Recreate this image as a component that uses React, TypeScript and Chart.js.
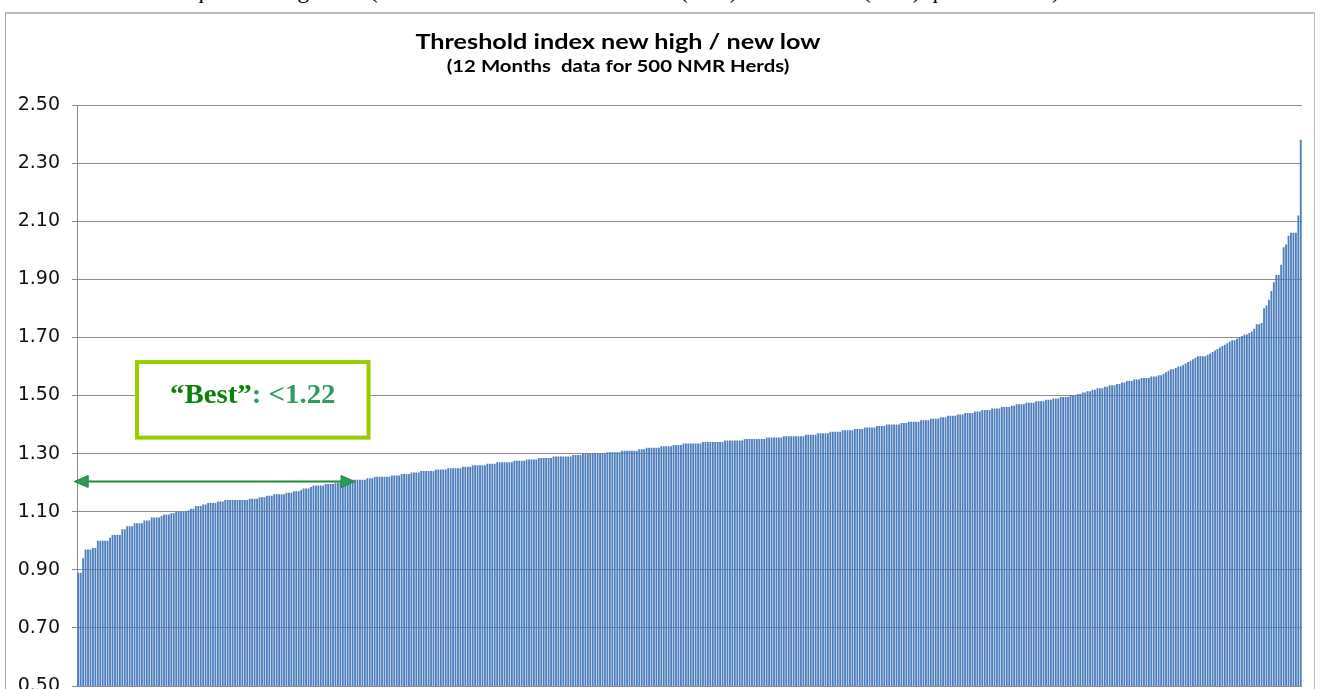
import React, { useEffect, useRef } from "react";
import { Chart, registerables } from "chart.js";

Chart.register(...registerables);

// Threshold index per herd, sorted ascending (500 NMR herds)
const herdIndex: number[] = [
  0.89, 0.89, 0.94, 0.97, 0.97, 0.97, 0.975, 0.975, 1.0, 1.0,
  1.0, 1.0, 1.0, 1.01, 1.02, 1.02, 1.02, 1.02, 1.04, 1.04,
  1.05, 1.05, 1.05, 1.06, 1.06, 1.06, 1.06, 1.07, 1.07, 1.07,
  1.08, 1.08, 1.08, 1.08, 1.085, 1.09, 1.09, 1.09, 1.095, 1.095,
  1.1, 1.1, 1.1, 1.1, 1.1, 1.105, 1.11, 1.11, 1.12, 1.12,
  1.12, 1.125, 1.125, 1.13, 1.13, 1.13, 1.13, 1.135, 1.135, 1.135,
  1.14, 1.14, 1.14, 1.14, 1.14, 1.14, 1.14, 1.14, 1.14, 1.14,
  1.145, 1.145, 1.145, 1.145, 1.15, 1.15, 1.15, 1.155, 1.155, 1.155,
  1.16, 1.16, 1.16, 1.16, 1.16, 1.165, 1.165, 1.165, 1.17, 1.17,
  1.17, 1.175, 1.18, 1.18, 1.18, 1.185, 1.19, 1.19, 1.19, 1.19,
  1.19, 1.195, 1.195, 1.195, 1.195, 1.2, 1.2, 1.2, 1.2, 1.2,
  1.2, 1.205, 1.21, 1.21, 1.21, 1.21, 1.21, 1.21, 1.215, 1.215,
  1.215, 1.22, 1.22, 1.22, 1.22, 1.22, 1.22, 1.22, 1.225, 1.225,
  1.225, 1.225, 1.23, 1.23, 1.23, 1.23, 1.235, 1.235, 1.235, 1.235,
  1.24, 1.24, 1.24, 1.24, 1.24, 1.24, 1.245, 1.245, 1.245, 1.245,
  1.245, 1.25, 1.25, 1.25, 1.25, 1.25, 1.25, 1.255, 1.255, 1.255,
  1.255, 1.26, 1.26, 1.26, 1.26, 1.26, 1.26, 1.265, 1.265, 1.265,
  1.265, 1.27, 1.27, 1.27, 1.27, 1.27, 1.27, 1.27, 1.275, 1.275,
  1.275, 1.275, 1.275, 1.28, 1.28, 1.28, 1.28, 1.28, 1.285, 1.285,
  1.285, 1.285, 1.285, 1.285, 1.29, 1.29, 1.29, 1.29, 1.29, 1.29,
  1.29, 1.29, 1.295, 1.295, 1.295, 1.295, 1.3, 1.3, 1.3, 1.3,
  1.3, 1.3, 1.3, 1.3, 1.3, 1.3, 1.305, 1.305, 1.305, 1.305,
  1.305, 1.305, 1.31, 1.31, 1.31, 1.31, 1.31, 1.31, 1.31, 1.315,
  1.315, 1.315, 1.32, 1.32, 1.32, 1.32, 1.32, 1.32, 1.325, 1.325,
  1.325, 1.325, 1.325, 1.33, 1.33, 1.33, 1.33, 1.335, 1.335, 1.335,
  1.335, 1.335, 1.335, 1.335, 1.335, 1.34, 1.34, 1.34, 1.34, 1.34,
  1.34, 1.34, 1.34, 1.34, 1.345, 1.345, 1.345, 1.345, 1.345, 1.345,
  1.345, 1.345, 1.35, 1.35, 1.35, 1.35, 1.35, 1.35, 1.35, 1.35,
  1.35, 1.355, 1.355, 1.355, 1.355, 1.355, 1.355, 1.355, 1.36, 1.36,
  1.36, 1.36, 1.36, 1.36, 1.36, 1.36, 1.36, 1.365, 1.365, 1.365,
  1.365, 1.365, 1.37, 1.37, 1.37, 1.37, 1.37, 1.375, 1.375, 1.375,
  1.375, 1.375, 1.38, 1.38, 1.38, 1.38, 1.38, 1.385, 1.385, 1.385,
  1.385, 1.39, 1.39, 1.39, 1.39, 1.39, 1.395, 1.395, 1.395, 1.395,
  1.4, 1.4, 1.4, 1.4, 1.4, 1.4, 1.405, 1.405, 1.405, 1.41,
  1.41, 1.41, 1.41, 1.41, 1.415, 1.415, 1.415, 1.415, 1.42, 1.42,
  1.42, 1.42, 1.425, 1.425, 1.425, 1.43, 1.43, 1.43, 1.43, 1.435,
  1.435, 1.435, 1.44, 1.44, 1.44, 1.44, 1.445, 1.445, 1.445, 1.45,
  1.45, 1.45, 1.45, 1.455, 1.455, 1.455, 1.455, 1.46, 1.46, 1.46,
  1.46, 1.465, 1.465, 1.47, 1.47, 1.47, 1.47, 1.475, 1.475, 1.475,
  1.475, 1.48, 1.48, 1.48, 1.48, 1.485, 1.485, 1.485, 1.49, 1.49,
  1.49, 1.495, 1.495, 1.495, 1.495, 1.5, 1.5, 1.5, 1.505, 1.505,
  1.51, 1.51, 1.515, 1.515, 1.52, 1.52, 1.525, 1.525, 1.525, 1.53,
  1.53, 1.535, 1.535, 1.535, 1.54, 1.54, 1.545, 1.545, 1.55, 1.55,
  1.55, 1.555, 1.555, 1.555, 1.56, 1.56, 1.56, 1.56, 1.565, 1.565,
  1.565, 1.57, 1.57, 1.575, 1.58, 1.585, 1.59, 1.59, 1.595, 1.6,
  1.6, 1.605, 1.61, 1.615, 1.62, 1.625, 1.63, 1.635, 1.635, 1.635,
  1.635, 1.64, 1.645, 1.65, 1.655, 1.66, 1.665, 1.67, 1.675, 1.68,
  1.685, 1.69, 1.69, 1.695, 1.7, 1.705, 1.71, 1.71, 1.715, 1.72,
  1.73, 1.745, 1.745, 1.75, 1.8, 1.81, 1.83, 1.86, 1.89, 1.915,
  1.915, 1.95, 2.01, 2.02, 2.05, 2.06, 2.06, 2.06, 2.12, 2.38,
];

const herdLabels: string[] = herdIndex.map((_, i) => `Herd ${i + 1}`);

const Y_MIN = 0.5;
const Y_MAX = 2.5;
const Y_STEP = 0.2;

const titleText = "Threshold index new high / new low";
const subtitleText = "(12 Months  data for 500 NMR Herds)";
const bestQuote = "\u201CBest\u201D";
const bestRest = ": <1.22";

// cropped line of document text above the chart
const docLineParts: string[] = [
  "interquartile range",
  "(difference between the",
  "(75%) and the",
  "(25%) quartile herds). Th",
];

// annotation anchors in data units (herd position, index value)
const BEST_BOX = { fromHerd: 24, toHerd: 118.5, low: 1.355, high: 1.615 };
const BEST_ARROW = { fromHerd: -1.65, toHerd: 113, value: 1.205 };

const bestPlugin = {
  id: "bestAnnotation",
  afterDatasetsDraw(chart: any) {
    const { ctx } = chart;
    const x = chart.scales.x;
    const y = chart.scales.y;
    const p0 = x.getPixelForValue(0);
    const pitch = x.getPixelForValue(1) - p0;
    const px = (h: number) => p0 + h * pitch;

    ctx.save();
    // arrow
    const ay = Math.round(y.getPixelForValue(BEST_ARROW.value)) + 0.5;
    const ax1 = px(BEST_ARROW.fromHerd);
    const ax2 = px(BEST_ARROW.toHerd);
    const head = 14;
    const half = 6;
    ctx.strokeStyle = "#1f8a3b";
    ctx.lineWidth = 2;
    ctx.beginPath();
    ctx.moveTo(ax1 + head, ay);
    ctx.lineTo(ax2 - head, ay);
    ctx.stroke();
    ctx.fillStyle = "#2e9a58";
    ctx.lineWidth = 1;
    ctx.beginPath();
    ctx.moveTo(ax1, ay);
    ctx.lineTo(ax1 + head, ay - half);
    ctx.lineTo(ax1 + head, ay + half);
    ctx.closePath();
    ctx.fill();
    ctx.stroke();
    ctx.beginPath();
    ctx.moveTo(ax2, ay);
    ctx.lineTo(ax2 - head, ay - half);
    ctx.lineTo(ax2 - head, ay + half);
    ctx.closePath();
    ctx.fill();
    ctx.stroke();

    // box
    const bx1 = px(BEST_BOX.fromHerd);
    const bx2 = px(BEST_BOX.toHerd);
    const by1 = y.getPixelForValue(BEST_BOX.high);
    const by2 = y.getPixelForValue(BEST_BOX.low);
    ctx.fillStyle = "#ffffff";
    ctx.fillRect(bx1, by1, bx2 - bx1, by2 - by1);
    ctx.strokeStyle = "#99cc00";
    ctx.lineWidth = 4;
    ctx.strokeRect(bx1, by1, bx2 - bx1, by2 - by1);

    // text
    ctx.font = 'bold 28px "Liberation Serif", "Times New Roman", serif';
    ctx.textBaseline = "middle";
    ctx.textAlign = "left";
    const w1 = ctx.measureText(bestQuote).width;
    const w2 = ctx.measureText(bestRest).width;
    const sx = 1.03;
    const cx = (bx1 + bx2) / 2;
    const cy = (by1 + by2) / 2 - 4;
    ctx.translate(cx, cy);
    ctx.scale(sx, 1);
    const start = -(w1 + w2) / 2;
    ctx.fillStyle = "#0b800b";
    ctx.fillText(bestQuote, start, 0);
    ctx.fillStyle = "#2f9a62";
    ctx.fillText(bestRest, start + w1, 0);
    ctx.restore();
  },
};

function ThresholdChart() {
  const ref = useRef<HTMLCanvasElement | null>(null);
  useEffect(() => {
    if (!ref.current) return;
    const chart = new Chart(ref.current, {
      type: "bar",
      data: {
        labels: herdLabels,
        datasets: [
          {
            data: herdIndex,
            backgroundColor: "#4a7dbb",
            borderWidth: 0,
            barPercentage: 0.74,
            categoryPercentage: 1,
          },
        ],
      },
      options: {
        responsive: false,
        maintainAspectRatio: false,
        devicePixelRatio: 1,
        animation: false,
        layout: { padding: { top: 92, right: 15, bottom: 47, left: 0 } },
        plugins: {
          legend: { display: false },
          tooltip: { enabled: false },
          title: { display: false },
        },
        scales: {
          x: { display: false },
          y: {
            min: Y_MIN,
            max: Y_MAX,
            afterFit: (s: any) => {
              s.width = 72;
            },
            ticks: {
              stepSize: Y_STEP,
              padding: 12,
              color: "#111111",
              font: { family: '"DejaVu Sans", sans-serif', size: 19 },
              callback: (v: any) => Number(v).toFixed(2),
            },
            grid: {
              color: "#8c8c8c",
              lineWidth: 1,
              tickLength: 5,
              drawTicks: true,
            },
            border: { display: true, color: "#8c8c8c", width: 1 },
          },
        },
      },
      plugins: [bestPlugin],
    } as any);
    return () => chart.destroy();
  }, []);
  return (
    <canvas
      ref={ref}
      width={1312}
      height={720}
      style={{ position: "absolute", left: 5, top: 13, width: 1312, height: 720, display: "block" }}
    />
  );
}

export default function App() {
  const docLeft = [150, 370, 680, 863];
  return (
    <div
      style={{
        position: "fixed",
        left: 0,
        top: 0,
        width: 1323,
        height: 689,
        overflow: "hidden",
        background: "#ffffff",
      }}
    >
      {docLineParts.map((t, i) => (
        <div
          key={i}
          style={{
            position: "absolute",
            left: docLeft[i],
            top: -21,
            fontFamily: '"Liberation Serif", "Times New Roman", serif',
            fontSize: 23,
            lineHeight: "23px",
            whiteSpace: "nowrap",
            color: "#000",
          }}
        >
          {t}
        </div>
      ))}
      <div
        style={{
          position: "absolute",
          left: 5,
          top: 12,
          width: 1310,
          height: 720,
          borderTop: "2px solid #bdbdbd",
          borderLeft: "1px solid #a6a6a6",
          borderRight: "1px solid #bdbdbd",
          boxSizing: "border-box",
        }}
      />
      <ThresholdChart />
      <div
        style={{
          position: "absolute",
          left: 318,
          width: 600,
          top: 28,
          textAlign: "center",
          fontFamily: 'Lato, "Open Sans", sans-serif',
          fontWeight: 700,
          fontSize: 21,
          lineHeight: "26px",
          whiteSpace: "pre",
          color: "#000",
          transform: "scaleX(1.2)",
          transformOrigin: "center",
        }}
      >
        {titleText}
      </div>
      <div
        style={{
          position: "absolute",
          left: 318,
          width: 600,
          top: 56,
          textAlign: "center",
          fontFamily: 'Lato, "Open Sans", sans-serif',
          fontWeight: 700,
          fontSize: 17,
          lineHeight: "20px",
          whiteSpace: "pre",
          color: "#000",
          transform: "scaleX(1.2)",
          transformOrigin: "center",
        }}
      >
        {subtitleText}
      </div>
    </div>
  );
}
